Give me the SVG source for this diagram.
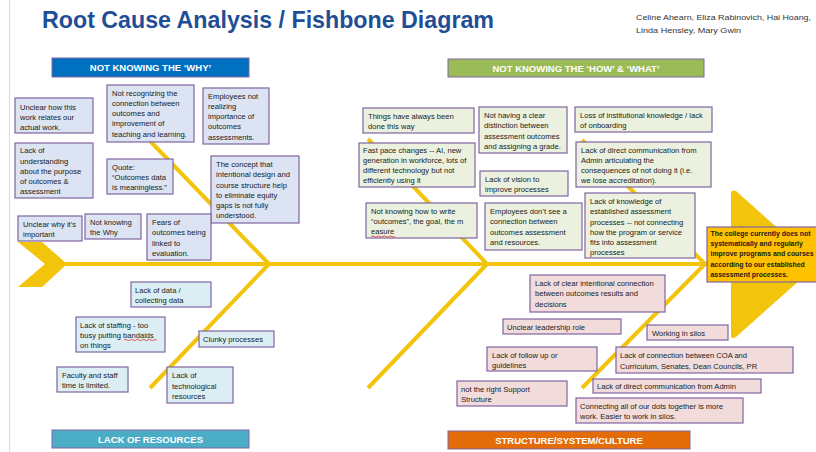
<svg xmlns="http://www.w3.org/2000/svg" width="816" height="452" viewBox="0 0 816 452">
<style>
.bone{stroke:#f2c40c;stroke-width:4;fill:none;stroke-linecap:butt}
.box{stroke:#8064a2;stroke-width:1.2}
.why{fill:#dce3f3}
.res{fill:#dbeef4}
.how{fill:#ebf1de}
.str{fill:#f2dcdb}
.t{font-family:"Liberation Sans",Arial,sans-serif;font-size:7.6px;fill:#1a1a1a}
.ht{font-family:"Liberation Sans",Arial,sans-serif;font-size:6.9px;font-weight:bold;fill:#1a1a1a}
.hd{font-family:"Liberation Sans",Arial,sans-serif;font-size:9.5px;font-weight:bold;fill:#ffffff;text-anchor:middle}
.sq{stroke:#e03030;stroke-width:0.8;fill:none}
</style>
<rect x="0" y="0" width="816" height="452" fill="#ffffff"/>
<line x1="9.5" y1="0" x2="9.5" y2="452" stroke="#dcdcdc" stroke-width="1"/>
<text x="42" y="28" font-family="'Liberation Sans',Arial,sans-serif" font-size="24" font-weight="bold" fill="#1f4e97" textLength="452" lengthAdjust="spacingAndGlyphs">Root Cause Analysis / Fishbone Diagram</text>
<text font-family="'Liberation Sans',Arial,sans-serif" font-size="8" fill="#333333"><tspan x="636" y="20" textLength="175" lengthAdjust="spacingAndGlyphs">Celine Ahearn, Eliza Rabinovich, Hai Hoang,</tspan><tspan x="636" y="33" textLength="105" lengthAdjust="spacingAndGlyphs">Linda Hensley, Mary Gwin</tspan></text>

<g id="connectors">
<polygon points="18,242 42,242 67,264 42,287 18,287 45,264" fill="#f2c40c"/>
<path d="M731,194 Q731,189 736,191 L818,264 L736,337 Q731,340 731,335 Z" fill="#f2c40c"/>
<line class="bone" x1="65" y1="264" x2="708" y2="264"/>
<line class="bone" x1="150" y1="141" x2="269" y2="264"/>
<line class="bone" x1="269" y1="264" x2="150" y2="388"/>
<line class="bone" x1="368" y1="139" x2="487" y2="264"/>
<line class="bone" x1="487" y1="264" x2="368" y2="388"/>
<line class="bone" x1="582" y1="140" x2="705" y2="264"/>
<line class="bone" x1="705" y1="264" x2="582" y2="388"/>
</g>

<g id="hdr-why"><rect x="52" y="58" width="197" height="19" fill="#0070c0" stroke="#8064a2"/><text class="hd" x="150.5" y="71">NOT KNOWING THE ‘WHY’</text></g>
<g id="hdr-how"><rect x="448" y="59" width="256" height="18" fill="#9bbb59" stroke="#8064a2"/><text class="hd" x="576" y="71.5">NOT KNOWING THE ‘HOW’ &amp; ‘WHAT’</text></g>
<g id="hdr-res"><rect x="52" y="430" width="197" height="18" fill="#4bacc6" stroke="#8064a2"/><text class="hd" x="150.5" y="442.5">LACK OF RESOURCES</text></g>
<g id="hdr-str"><rect x="448" y="431" width="242" height="18" fill="#e36c09" stroke="#8064a2"/><text class="hd" x="569" y="443.5">STRUCTURE/SYSTEM/CULTURE</text></g>

<g id="w1"><rect class="box why" x="15" y="98" width="78" height="35"/><text class="t"><tspan x="20" y="110">Unclear how this</tspan><tspan x="20" y="120">work relates our</tspan><tspan x="20" y="130">actual work.</tspan></text></g>
<g id="w2"><rect class="box why" x="15" y="143" width="78" height="55"/><text class="t"><tspan x="20" y="153">Lack of</tspan><tspan x="20" y="163.5">understanding</tspan><tspan x="20" y="173.5">about the purpose</tspan><tspan x="20" y="183.5">of outcomes &amp;</tspan><tspan x="20" y="193.5">assessment</tspan></text></g>
<g id="w3"><rect class="box why" x="107" y="85" width="87" height="57"/><text class="t"><tspan x="112" y="96">Not recognizing the</tspan><tspan x="112" y="106">connection between</tspan><tspan x="112" y="116">outcomes and</tspan><tspan x="112" y="126">improvement of</tspan><tspan x="112" y="137">teaching and learning.</tspan></text></g>
<g id="w4"><rect class="box why" x="203" y="88" width="66" height="56"/><text class="t"><tspan x="208" y="99">Employees not</tspan><tspan x="208" y="109">realizing</tspan><tspan x="208" y="119">importance of</tspan><tspan x="208" y="129">outcomes</tspan><tspan x="208" y="140">assessments.</tspan></text></g>
<g id="w5"><rect class="box why" x="107" y="159" width="66" height="35"/><text class="t"><tspan x="112" y="170">Quote:</tspan><tspan x="112" y="180">“Outcomes data</tspan><tspan x="112" y="190">is meaningless.”</tspan></text></g>
<g id="w6"><rect class="box why" x="211" y="156" width="88" height="67"/><text class="t"><tspan x="216" y="167">The concept that</tspan><tspan x="216" y="177">intentional design and</tspan><tspan x="216" y="187.5">course structure help</tspan><tspan x="216" y="198">to eliminate equity</tspan><tspan x="216" y="208">gaps is not fully</tspan><tspan x="216" y="218">understood.</tspan></text></g>
<g id="w7"><rect class="box why" x="18" y="216" width="64" height="25"/><text class="t"><tspan x="23" y="227">Unclear why it’s</tspan><tspan x="23" y="237">important</tspan></text></g>
<g id="w8"><rect class="box why" x="85" y="214" width="56" height="25"/><text class="t"><tspan x="90" y="225">Not knowing</tspan><tspan x="90" y="235">the Why</tspan></text></g>
<g id="w9"><rect class="box why" x="147" y="214" width="64" height="46"/><text class="t"><tspan x="152" y="225">Fears of</tspan><tspan x="152" y="235">outcomes being</tspan><tspan x="152" y="245.5">linked to</tspan><tspan x="152" y="256">evaluation.</tspan></text></g>

<g id="r1"><rect class="box res" x="131" y="282" width="80" height="25"/><text class="t"><tspan x="135" y="293">Lack of data /</tspan><tspan x="135" y="303">collecting data</tspan></text></g>
<g id="r2"><rect class="box res" x="76" y="317" width="89" height="35"/><text class="t"><tspan x="80" y="328">Lack of staffing - too</tspan><tspan x="80" y="338">busy putting bandaids</tspan><tspan x="80" y="348">on things</tspan></text><path class="sq" d="M124,340 q1.5,-1.2 3,0 t3,0 t3,0 t3,0 t3,0 t3,0 t3,0 t3,0 t3,0 t3,0 t3,0"/></g>
<g id="r3"><rect class="box res" x="199" y="331" width="75" height="16"/><text class="t"><tspan x="203" y="342">Clunky processes</tspan></text></g>
<g id="r4"><rect class="box res" x="57" y="367" width="71" height="25"/><text class="t"><tspan x="62" y="378">Faculty and staff</tspan><tspan x="62" y="388">time is limited.</tspan></text></g>
<g id="r5"><rect class="box res" x="167" y="367" width="66" height="36"/><text class="t"><tspan x="172" y="378">Lack of</tspan><tspan x="172" y="388.5">technological</tspan><tspan x="172" y="399">resources</tspan></text></g>

<g id="h1"><rect class="box how" x="363" y="108" width="111" height="25"/><text class="t"><tspan x="368" y="119">Things have always been</tspan><tspan x="368" y="129">done this way</tspan></text></g>
<g id="h2"><rect class="box how" x="359" y="143" width="116" height="44"/><text class="t"><tspan x="363" y="153">Fast pace changes -- AI, new</tspan><tspan x="363" y="163">generation in workforce, lots of</tspan><tspan x="363" y="173">different technology but not</tspan><tspan x="363" y="183">efficiently using it</tspan></text></g>
<g id="h3"><rect class="box how" x="366" y="203" width="111" height="35"/><text class="t"><tspan x="371" y="214">Not knowing how to write</tspan><tspan x="371" y="224">“outcomes”, the goal, the m</tspan><tspan x="371" y="234">easure</tspan></text><path class="sq" d="M371,236.5 q1.5,-1.2 3,0 t3,0 t3,0 t3,0 t3,0 t3,0 t3,0 t3,0"/></g>
<g id="h4"><rect class="box how" x="479" y="107" width="88" height="46"/><text class="t"><tspan x="484" y="118">Not having a clear</tspan><tspan x="484" y="128">distinction between</tspan><tspan x="484" y="138.5">assessment outcomes</tspan><tspan x="484" y="149">and assigning a grade.</tspan></text></g>
<g id="h5"><rect class="box how" x="480" y="171" width="88" height="25"/><text class="t"><tspan x="485" y="182">Lack of vision to</tspan><tspan x="485" y="192">improve processes</tspan></text></g>
<g id="h6"><rect class="box how" x="485" y="203" width="97" height="47"/><text class="t"><tspan x="490" y="214">Employees don’t see a</tspan><tspan x="490" y="224">connection between</tspan><tspan x="490" y="234.5">outcomes assessment</tspan><tspan x="490" y="245">and resources.</tspan></text></g>
<g id="h7"><rect class="box how" x="575" y="107" width="137" height="25"/><text class="t"><tspan x="580" y="118">Loss of institutional knowledge / lack</tspan><tspan x="580" y="128">of onboarding</tspan></text></g>
<g id="h8"><rect class="box how" x="576" y="142" width="135" height="45"/><text class="t"><tspan x="581" y="153">Lack of direct communication from</tspan><tspan x="581" y="163">Admin articulating the</tspan><tspan x="581" y="173">consequences of not doing it (i.e.</tspan><tspan x="581" y="183">we lose accreditation).</tspan></text></g>
<g id="h9"><rect class="box how" x="585" y="193" width="110" height="65"/><text class="t"><tspan x="590" y="204">Lack of knowledge of</tspan><tspan x="590" y="214">established assessment</tspan><tspan x="590" y="224.5">processes -- not connecting</tspan><tspan x="590" y="235">how the program or service</tspan><tspan x="590" y="245">fits into assessment</tspan><tspan x="590" y="255">processes</tspan></text></g>

<g id="head"><rect x="707" y="227" width="120" height="55" fill="#ffc000" stroke="#8064a2" stroke-width="1.2"/><text class="ht"><tspan x="710.5" y="236">The college currently does not</tspan><tspan x="710.5" y="246">systematically and regularly</tspan><tspan x="710.5" y="256">improve programs and courses</tspan><tspan x="710.5" y="267">according to our established</tspan><tspan x="710.5" y="277">assessment processes.</tspan></text></g>

<g id="s1"><rect class="box str" x="530" y="275" width="135" height="37"/><text class="t"><tspan x="535" y="286">Lack of clear intentional connection</tspan><tspan x="535" y="296">between outcomes results and</tspan><tspan x="535" y="306.5">decisions</tspan></text></g>
<g id="s2"><rect class="box str" x="503" y="319" width="118" height="15"/><text class="t"><tspan x="507" y="330">Unclear leadership role</tspan></text></g>
<g id="s3"><rect class="box str" x="647" y="325" width="81" height="15"/><text class="t"><tspan x="652" y="335.5">Working in silos</tspan></text></g>
<g id="s4"><rect class="box str" x="487" y="347" width="110" height="24"/><text class="t"><tspan x="492" y="357.5">Lack of follow up or</tspan><tspan x="492" y="367.5">guidelines</tspan></text></g>
<g id="s5"><rect class="box str" x="616" y="347" width="177" height="26"/><text class="t"><tspan x="620" y="358">Lack of connection between COA and</tspan><tspan x="620" y="368.5">Curriculum, Senates, Dean Councils, PR</tspan></text></g>
<g id="s6"><rect class="box str" x="457" y="381" width="110" height="25"/><text class="t"><tspan x="461" y="392">not the right Support</tspan><tspan x="461" y="402">Structure</tspan></text></g>
<g id="s7"><rect class="box str" x="593" y="379" width="168" height="14"/><text class="t"><tspan x="597" y="389">Lack of direct communication from Admin</tspan></text></g>
<g id="s8"><rect class="box str" x="576" y="398" width="167" height="25"/><text class="t"><tspan x="580" y="409">Connecting all of our dots together is more</tspan><tspan x="580" y="419">work. Easier to work in silos.</tspan></text></g>
</svg>
